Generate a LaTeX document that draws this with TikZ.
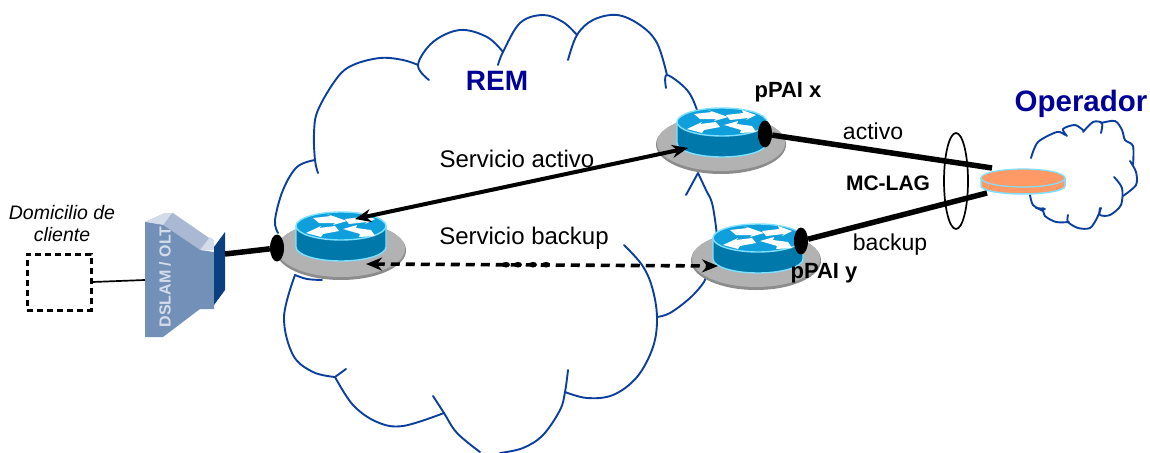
\documentclass[tikz,border=0pt]{standalone}
\usepackage{fontspec}
\setmainfont{Liberation Sans}
\usetikzlibrary{arrows.meta,calc,shapes.geometric}
\definecolor{cloudblue}{HTML}{0B3F9E}
\definecolor{titleblue}{HTML}{000099}
\definecolor{platetop}{HTML}{B2B2B2}
\definecolor{plateedge}{HTML}{8C8C8C}
\definecolor{routertop}{HTML}{0F9FDC}
\definecolor{routerside}{HTML}{0078AA}
\definecolor{routeredge}{HTML}{7FE0FF}
\definecolor{edgeorange}{HTML}{FF9966}
\definecolor{dslamface}{HTML}{7390B8}
\definecolor{dslamtop}{HTML}{AAB8D4}
\definecolor{dslamdark}{HTML}{0A4080}
\definecolor{dslamlight}{HTML}{D4DCEA}
\tikzset{
    %Define standard arrow tip
    >={Stealth[length=16pt,width=13pt]},
    %Define style for the clouds
    cloudline/.style={
           draw=cloudblue,
           line width=1.9pt,
           line join=round,
           line cap=round},
    %Define style for router parts
    plate/.style={
           ellipse,
           fill=platetop,
           minimum width=128pt,
           minimum height=56pt,
           inner sep=0pt},
    plateshadow/.style={
           ellipse,
           fill=plateedge,
           minimum width=130pt,
           minimum height=59pt,
           inner sep=0pt},
    port/.style={
           ellipse,
           fill=black,
           minimum width=14pt,
           minimum height=27pt,
           inner sep=0pt},
    % Define line styles
    trunk/.style={
           line width=5.5pt,
           black},
    link/.style={
           <->,
           line width=4pt,
           black},
    backuplink/.style={
           link,
           line width=3.6pt,
           dash pattern=on 9pt off 6pt},
    %Define style for the labels
    plain/.style={
           font=\fontsize{23}{25}\selectfont,
           inner sep=0pt},
    servicelabel/.style={
           font=\fontsize{24}{26}\selectfont,
           inner sep=0pt},
    bold/.style={
           font=\fontsize{22}{24}\bfseries\selectfont,
           inner sep=0pt},
    title/.style={
           font=\fontsize{29.5}{31}\bfseries\selectfont,
           text=titleblue,
           inner sep=0pt}
}
%a router: name, plate centre, centre of the top of the drum
\newcommand{\router}[3]{
\node[plateshadow] at ($(#2)+(0,1.5)$) {};
\node[plate](#1) at (#2) {};
\begin{scope}[shift={(#3)}]
\filldraw[draw=routeredge, line width=1.4pt, fill=routerside]
    (-45,0) -- (-45,21) arc[start angle=180, end angle=0, x radius=45, y radius=14] -- (45,0) -- cycle;
\filldraw[draw=routeredge, line width=1.4pt, fill=routertop]
    (0,0) ellipse[x radius=45, y radius=14];
\fill[white] (-28,-8) -- (-10,-10) -- (-14,-12) -- (6,-5) -- (-8,-1) -- (-6,-3) -- (-22,-3) -- cycle;
\fill[white] (34,-7) -- (20,-12) -- (21,-9) -- (4,-7) -- (8,-2) -- (26,-4) -- (24,-2) -- cycle;
\fill[white] (-35,7) -- (-20,11) -- (-18,8) -- (-2,5) -- (-6,0) -- (-22,2) -- (-20,0) -- cycle;
\fill[white] (34,10) -- (18,11) -- (19,8) -- (2,3) -- (16,-1) -- (15,2) -- (30,4) -- cycle;
\end{scope}
}
\begin{document}
\begin{tikzpicture}[x=1pt,y=-1pt]
\useasboundingbox (0,0) rectangle (1150,452);
 %big cloud
\draw[cloudline] plot[smooth,tension=.6] coordinates {(278,233) (275,220) (283,190) (297,167) (315,160)};
\draw[cloudline] plot[smooth,tension=.6] coordinates {(318,173) (315,160) (314,133) (318,110) (337,78) (353,65) (380,58) (403,60) (418,65)};
\draw[cloudline] plot[smooth,tension=.6] coordinates {(429,80) (418,65) (433,42) (460,30) (487,37) (503,52)};
\draw[cloudline] plot[smooth,tension=.6] coordinates {(498,65) (503,52) (520,23) (543,15) (563,22) (577,35)};
\draw[cloudline] plot[smooth,tension=.6] coordinates {(568,60) (577,35) (593,20) (617,15) (640,25) (657,43) (667,75)};
\draw[cloudline] plot[smooth,tension=.6] coordinates {(666,88) (667,75) (687,90) (697,110) (700,125)};
\draw[cloudline] (686,195) -- (698,173);
\draw[cloudline] plot[smooth,tension=.6] coordinates {(698,173) (706,190) (712,203) (716,227) (717,240)};
\draw[cloudline] plot[smooth,tension=.6] coordinates {(705,275) (704,282) (690,298) (670,313) (657,317)};
\draw[cloudline] plot[smooth,tension=.6] coordinates {(624,245) (642,265) (652,287) (657,317) (653,347) (637,377) (613,395) (587,398) (565,392)};
\draw[cloudline] plot[smooth,tension=.6] coordinates {(568,370) (565,392) (560,410) (543,435) (523,448) (500,453)};
\draw[cloudline] plot[smooth,tension=.6] coordinates {(480,452) (457,433) (444,413) (433,396)};
\draw[cloudline] plot[smooth,tension=.6] coordinates {(444,413) (403,426) (377,422) (353,405) (335,377)};
\draw[cloudline] (335,377) -- (346,369);
\draw[cloudline] plot[smooth,tension=.6] coordinates {(335,377) (313,372) (293,355) (284,317) (295,275)};
\draw[cloudline] plot[smooth,tension=.6] coordinates {(295,275) (307,279) (322,280)};
 %small cloud
\draw[cloudline] plot[smooth,tension=.5] coordinates {(1031,158) (1038,142) (1057,132) (1065,135)};
\draw[cloudline] plot[smooth,tension=.5] coordinates {(1067,136) (1063,129) (1075,125) (1084,131)};
\draw[cloudline] plot[smooth,tension=.5] coordinates {(1083,132) (1093,122) (1102,123) (1101,133)};
\draw[cloudline] plot[smooth,tension=.5] coordinates {(1101,123) (1115,121) (1122,130) (1125,140) (1133,146) (1133,165)};
\draw[cloudline] plot[smooth,tension=.5] coordinates {(1130,161) (1136,172) (1136,185) (1123,196)};
\draw[cloudline] plot[smooth,tension=.5] coordinates {(1114,177) (1122,188) (1121,205) (1110,215) (1100,215) (1100,208)};
\draw[cloudline] plot[smooth,tension=.5] coordinates {(1101,208) (1097,218) (1090,228) (1078,228) (1068,222) (1068,215)};
\draw[cloudline] plot[smooth,tension=.5] coordinates {(1069,222) (1056,222) (1045,216) (1043,208)};
\draw[cloudline] (1045,209) -- (1036,208);
\draw[cloudline] plot[smooth,tension=.5] coordinates {(1043,211) (1033,205) (1030,195)};
 %routers
\router{remrouter}{341,249}{341,226}
\router{pPAIx}{721,143}{722,122}
\router{pPAIy}{756,259}{758,238}
\node[port](portrem) at (277,248) {};
\node[port](portx) at (765,134) {};
\node[port](porty) at (801,241) {};
\coordinate (activeL) at (355,219);
\coordinate (activeR) at (688,148);
\coordinate (backupL) at (366,264);
\coordinate (backupR) at (718,266);
 %operator edge device
\filldraw[draw=routeredge, line width=1.5pt, fill=edgeorange]
    (981,178) -- (981,186) arc[start angle=180, end angle=0, x radius=42, y radius=8] -- (1065,178) -- cycle;
\node[ellipse,draw=routeredge,line width=1.2pt,fill=edgeorange,minimum width=84pt,minimum height=18pt,inner sep=0pt](edge) at (1023,178) {};
\coordinate (edgetop) at (992,168);
\coordinate (edgelow) at (987,193);
 %access node
\fill[dslamtop] (145,222) -- (165,213) -- (173,213) -- (212,240) -- (212,250) -- (200,250) -- cycle;
\fill[dslamlight] (200,250) -- (210,237) -- (214,240) -- (214,250) -- cycle;
\fill[dslamlight] (163,225) -- (172,213) -- (165,213) -- (145,222) -- cycle;
\fill[dslamface] (145,222) -- (163,225) -- (200,250) -- (214,252) -- (214,309) -- (200,309) -- (163,337) -- (145,337) -- cycle;
\fill[dslamdark] (214,247) -- (225,232) -- (225,290) -- (214,305) -- cycle;
\node[font=\fontsize{16}{18}\bfseries\selectfont,text=dslamlight,rotate=90,inner sep=0pt](dslam) at (165,277) {DSLAM / OLT};
\coordinate (dslamin) at (145,280);
\coordinate (dslamout) at (225,254);
 %customer box
\node[draw=black,line width=3pt,dash pattern=on 6pt off 4pt,minimum width=64pt,minimum height=56pt,inner sep=0pt](home) at (59,282) {};
 %connectors
\draw[line width=1.7pt] (home.east) -- (dslamin);
\draw[trunk] (dslamout) -- (portrem);
\draw[trunk] (portx) -- (edgetop);
\draw[trunk] (porty) -- (edgelow);
\draw[link] (activeL) -- (activeR);
\draw[backuplink] (backupL) -- (backupR);
\foreach \xdot in {506,518,533,546}
    \fill (\xdot,264.7) ellipse[x radius=4, y radius=2.8];
 %lag ring
\node[ellipse,draw=black,line width=1.7pt,minimum width=24pt,minimum height=96pt,inner sep=0pt](lag) at (956,181) {};
 %labels
\node[title,font=\fontsize{28}{30}\bfseries\selectfont](rem) at (497,81) {REM};
\node[title](oper) at (1081,104) {Operador};
\node[bold](xlabel) at (788,92) {pPAI x};
\node[bold](ylabel) at (824,273) {pPAI y};
\node[bold,font=\fontsize{21}{23}\bfseries\selectfont](mclag) at (888,183) {MC-LAG};
\node[plain](activo) at (873,131) {activo};
\node[plain](backup) at (890,245) {backup};
\node[servicelabel](servact) at (517,159) {Servicio activo};
\node[servicelabel](servbak) at (524,238) {Servicio backup};
\node[font=\fontsize{19.5}{22}\itshape\selectfont,align=center,inner sep=0pt](homelabel) at (62,224) {Domicilio de\\cliente};
\end{tikzpicture}
\end{document}
